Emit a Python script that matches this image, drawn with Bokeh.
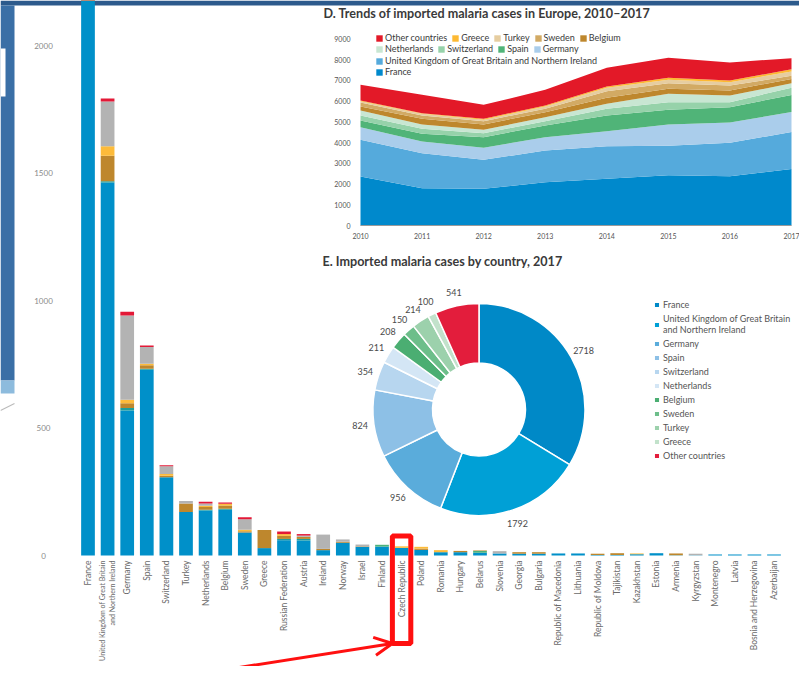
import math
from bokeh.plotting import figure
from bokeh.models import Range1d, ColumnDataSource, Legend, LegendItem, Label, Arrow, OpenHead
from bokeh.core.properties import value
from bokeh.embed import file_html
from bokeh.resources import INLINE

# ---------------- data: imported cases by country and species ----------------
countries = ["France", "United Kingdom of Great Britain\nand Northern Ireland", "Germany", "Spain",
             "Switzerland", "Turkey", "Netherlands", "Belgium", "Sweden", "Greece",
             "Russian Federation", "Austria", "Ireland", "Norway", "Israel", "Finland",
             "Czech Republic", "Poland", "Romania", "Hungary", "Belarus", "Slovenia", "Georgia",
             "Bulgaria", "Republic of Macedonia", "Lithuania", "Republic of Moldova", "Tajikistan",
             "Kazakhstan", "Estonia", "Armenia", "Kyrgyzstan", "Montenegro", "Latvia",
             "Bosnia and Herzegovina", "Azerbaijan"]
sp_blue   = [2718, 1463, 569, 728, 307, 171, 176, 179, 90, 29, 60, 59, 21, 50, 34, 35, 30, 22, 13, 13,
             11, 8, 7, 7, 8, 8, 2, 2, 5, 9, 1, 1, 4, 4, 4, 4]
sp_teal   = [0, 5, 9, 4, 0, 0, 3, 4, 0, 0, 5, 6, 0, 0, 0, 0, 0, 0, 0, 0,
             0, 0, 0, 0, 0, 0, 0, 0, 0, 0, 0, 0, 0, 0, 0, 0]
sp_green  = [0, 0, 0, 0, 0, 0, 0, 0, 0, 0, 0, 0, 0, 0, 0, 7, 0, 0, 0, 0,
             7, 0, 0, 0, 0, 0, 0, 0, 0, 0, 0, 0, 0, 0, 0, 0]
sp_ochre  = [0, 100, 19, 14, 6, 33, 11, 13, 5, 71, 12, 8, 5, 4, 2, 0, 0, 5, 0, 5,
             2, 0, 6, 6, 0, 0, 5, 7, 0, 0, 7, 0, 0, 0, 0, 0]
sp_yellow = [0, 37, 14, 6, 7, 0, 5, 7, 6, 0, 7, 0, 0, 0, 0, 0, 6, 7, 8, 0,
             0, 0, 0, 0, 0, 0, 0, 0, 3, 0, 0, 0, 0, 0, 0, 0]
sp_grey   = [0, 175, 330, 66, 30, 10, 9, 0, 41, 0, 0, 5, 56, 9, 7, 0, 0, 0, 0, 0,
             0, 9, 0, 0, 0, 0, 0, 0, 0, 0, 0, 6, 0, 0, 0, 0]
sp_red    = [0, 12, 15, 6, 4, 0, 7, 5, 8, 0, 10, 6, 0, 0, 0, 0, 0, 0, 0, 0,
             0, 0, 0, 0, 0, 0, 0, 0, 0, 0, 0, 0, 0, 0, 0, 0]
bar_ticks = [0, 500, 1000, 1500, 2000]
highlight_country = "Czech Republic"

# ---------------- data: D. trends 2010-2017 ----------------
years = [2010, 2011, 2012, 2013, 2014, 2015, 2016, 2017]
tr_france      = [2362, 1800, 1768, 2089, 2250, 2427, 2378, 2718]
tr_uk          = [1768, 1687, 1398, 1527, 1575, 1414, 1607, 1792]
tr_germany     = [610, 563, 578, 643, 723, 1028, 981, 956]
tr_spain       = [322, 369, 515, 562, 755, 707, 739, 824]
tr_switzerland = [241, 241, 192, 209, 322, 370, 241, 354]
tr_netherlands = [241, 209, 161, 193, 241, 402, 321, 211]
tr_belgium     = [193, 273, 257, 241, 289, 241, 241, 208]
tr_sweden      = [193, 161, 161, 161, 321, 273, 241, 150]
tr_turkey      = [64, 80, 64, 112, 161, 160, 161, 214]
tr_greece      = [32, 32, 48, 48, 64, 97, 80, 100]
tr_other       = [755, 885, 675, 755, 900, 964, 868, 541]
trend_ticks = [0, 1000, 2000, 3000, 4000, 5000, 6000, 7000, 8000, 9000]

# ---------------- data: E. cases by country 2017 ----------------
donut_names = ["France", "United Kingdom of Great Britain\nand Northern Ireland", "Germany", "Spain",
               "Switzerland", "Netherlands", "Belgium", "Sweden", "Turkey", "Greece", "Other countries"]
donut_values = [2718, 1792, 956, 824, 354, 211, 208, 150, 214, 100, 541]

# ---------------- layout helpers (canvas pixels) ----------------
W, H = 799, 666
FONT = "Lato"


def lin_range(v1, p1, v2, p2, lo, hi):
    k = (v2 - v1) / (p2 - p1)
    return Range1d(start=v1 + (lo - p1) * k, end=v1 + (hi - p1) * k)


BAR_X0, BAR_DX = 87.5, 19.6
p = figure(width=W, height=H, output_backend="svg", toolbar_location=None,
           x_range=lin_range(0, BAR_X0, 1, BAR_X0 + BAR_DX, 0, W),
           y_range=lin_range(0, 555, 1000, 300, H, 0),
           x_axis_location=None, y_axis_location=None,
           min_border_left=0, min_border_right=0, min_border_top=0, min_border_bottom=0)
p.outline_line_color = None
p.grid.visible = False
p.background_fill_color = "white"

p.extra_x_ranges = {"ax": lin_range(2010, 360, 2017, 791, 0, W),
                    "dx": lin_range(0, 478.5, 1, 479.5, 0, W),
                    "px": lin_range(0, 0, 1, 1, 0, W)}
p.extra_y_ranges = {"ay": lin_range(0, 225, 9000, 38.3, H, 0),
                    "dy": lin_range(0, 409, 1, 408, H, 0),
                    "py": lin_range(0, 0, 1, 1, H, 0)}

# ---------------- slide decoration (blue band / strip) ----------------
p.quad(left=[0], right=[W], top=[0], bottom=[5], fill_color="#2C5A8C", line_color=None,
       x_range_name="px", y_range_name="py")
p.quad(left=[0], right=[14], top=[5], bottom=[380], fill_color="#3A6FA6", line_color=None,
       x_range_name="px", y_range_name="py")
p.quad(left=[0], right=[14], top=[380], bottom=[393], fill_color="#8DBBDD", line_color=None,
       x_range_name="px", y_range_name="py")
p.quad(left=[0], right=[5], top=[48], bottom=[96], fill_color="white", line_color=None,
       x_range_name="px", y_range_name="py")
p.line(x=[0, 14], y=[410, 403], line_color="#BBBBBB", line_width=1.2,
       x_range_name="px", y_range_name="py")

# y tick labels of the bar chart
p.text(x=[43] * len(bar_ticks), y=bar_ticks, text=[str(t) for t in bar_ticks], x_range_name="px",
       text_align="center", text_baseline="middle", text_font=value(FONT),
       text_font_size="8px", text_color="#8a8a8a")

# ---------------- stacked bars ----------------
sp_keys = ["blue", "teal", "green", "ochre", "yellow", "grey", "red"]
sp_colors = ["#0090C9", "#1E9E9A", "#4DB27A", "#BE872D", "#FDBB3A", "#B3B3B3", "#E31937"]
label_sizes = ["7.1px" if "\n" in c else "8.5px" for c in countries]
bsrc = ColumnDataSource(dict(x=list(range(len(countries))), name=countries, fs=label_sizes,
                             blue=sp_blue, teal=sp_teal, green=sp_green, ochre=sp_ochre,
                             yellow=sp_yellow, grey=sp_grey, red=sp_red))
p.vbar_stack(sp_keys, x="x", width=0.7, fill_color=sp_colors, line_color=None, source=bsrc)
p.text(x="x", y=0, text="name", source=bsrc, angle=math.pi / 2, text_align="right",
       text_baseline="middle", y_offset=5, text_font=value(FONT), text_font_size="fs",
       text_color="#6a6a6a", text_line_height=1.1)

# highlight box + arrow
ci = countries.index(highlight_country)
p.quad(left=[ci - 0.47], right=[ci + 0.47], top=[535.5], bottom=[643], y_range_name="py",
       fill_color=None, line_color="#FF1010", line_width=5)
p.add_layout(Arrow(end=OpenHead(size=18, line_color="#FF1010", line_width=3),
                   x_start=143, y_start=682, x_end=BAR_X0 + BAR_DX * (ci - 0.47),
                   y_end=643, line_color="#FF1010", line_width=3,
                   x_range_name="px", y_range_name="py"))

# ---------------- D. stacked area ----------------
tr_keys = ["fr", "uk", "de", "es", "ch", "nl", "be", "se", "tr", "gr", "ot"]
tr_labels = ["France", "United Kingdom of Great Britain and Northern Ireland", "Germany", "Spain",
             "Switzerland", "Netherlands", "Belgium", "Sweden", "Turkey", "Greece", "Other countries"]
tr_colors = ["#0089CC", "#55AADC", "#AACDEB", "#50B478", "#96D2AA", "#C8E6D2",
             "#BE872D", "#D2AA64", "#E6CDA0", "#FDB932", "#E31928"]
asrc = ColumnDataSource(dict(year=years, fr=tr_france, uk=tr_uk, de=tr_germany, es=tr_spain,
                             ch=tr_switzerland, nl=tr_netherlands, be=tr_belgium, se=tr_sweden,
                             tr=tr_turkey, gr=tr_greece, ot=tr_other))
arends = p.varea_stack(tr_keys, x="year", fill_color=tr_colors, source=asrc,
                       x_range_name="ax", y_range_name="ay")
p.line(x=[years[0], years[-1]], y=[0, 0], line_color="#9a9a9a", line_width=1,
       x_range_name="ax", y_range_name="ay")
p.text(x=years, y=[0] * len(years), text=[str(y) for y in years], x_range_name="ax",
       y_range_name="ay", y_offset=10, text_align="center", text_baseline="middle",
       text_font=value(FONT), text_font_size="7px", text_color="#555555")
p.text(x=[years[0]] * len(trend_ticks), y=trend_ticks, text=[str(t) for t in trend_ticks],
       x_range_name="ax", y_range_name="ay", x_offset=-10, text_align="right",
       text_baseline="middle", text_font=value(FONT), text_font_size="7px", text_color="#555555")

rmap = dict(zip(tr_labels, arends))
legend_rows = [["Other countries", "Greece", "Turkey", "Sweden", "Belgium"],
               ["Netherlands", "Switzerland", "Spain", "Germany"],
               ["United Kingdom of Great Britain and Northern Ireland"],
               ["France"]]
row_centers = [38, 49, 61, 72]
for row, cy in zip(legend_rows, row_centers):
    lg = Legend(items=[LegendItem(label=n, renderers=[rmap[n]]) for n in row],
                location=(375, H - (cy + 5)), orientation="horizontal",
                padding=0, margin=0, spacing=4, glyph_width=8, glyph_height=8,
                label_standoff=2, label_height=9, label_width=10,
                label_text_font=FONT, label_text_font_size="9px", label_text_color="#3a3a3a",
                border_line_color=None, background_fill_alpha=0)
    p.add_layout(lg)

p.add_layout(Label(x=323, y=5, x_range_name="px", y_range_name="py",
                   text="D. Trends of imported malaria cases in Europe, 2010\u20132017",
                   text_font=FONT, text_font_size="12.6px", text_font_style="bold",
                   text_color="#3a3a3a", text_baseline="top"))

# ---------------- E. donut ----------------
d_colors = ["#0089C7", "#00A0D6", "#5AACDB", "#8DC0E6", "#B7D6EF", "#D4E6F5",
            "#4BAE72", "#6DBE8A", "#9CD1AC", "#C2E2CB", "#E31D3C"]
total = sum(donut_values)
starts, ends, lx, ly = [], [], [], []
acc = 0
for v in donut_values:
    a0 = math.pi / 2 - 2 * math.pi * acc / total
    acc += v
    a1 = math.pi / 2 - 2 * math.pi * acc / total
    starts.append(a0)
    ends.append(a1)
    mid = (a0 + a1) / 2
    lx.append(120 * math.cos(mid))
    ly.append(120 * math.sin(mid))
dsrc = ColumnDataSource(dict(start=starts, end=ends, color=d_colors, name=donut_names,
                             val=[str(v) for v in donut_values], lx=lx, ly=ly))
dr = p.annular_wedge(x=0, y=0, inner_radius=46.5, outer_radius=106, start_angle="start",
                     end_angle="end", direction="clock", fill_color="color", line_color="white",
                     line_width=1.5, source=dsrc, x_range_name="dx", y_range_name="dy")
p.text(x="lx", y="ly", text="val", source=dsrc, x_range_name="dx", y_range_name="dy",
       text_align="center", text_baseline="middle", text_font=value(FONT),
       text_font_size="9px", text_color="#4a4a4a")

dlg = Legend(items=[LegendItem(label=n, renderers=[dr], index=i) for i, n in enumerate(donut_names)],
             location=(653, H - 461), orientation="vertical",
             padding=0, margin=0, spacing=3, glyph_width=7, glyph_height=7,
             label_standoff=3, label_height=11, label_width=10,
             label_text_font=FONT, label_text_font_size="9px", label_text_color="#555555",
             label_text_line_height=1.4,
             border_line_color=None, background_fill_alpha=0)
p.add_layout(dlg)

p.add_layout(Label(x=322, y=253, x_range_name="px", y_range_name="py",
                   text="E. Imported malaria cases by country, 2017",
                   text_font=FONT, text_font_size="12.6px", text_font_style="bold",
                   text_color="#3a3a3a", text_baseline="top"))

open("out.html", "w").write(file_html(p, INLINE))
